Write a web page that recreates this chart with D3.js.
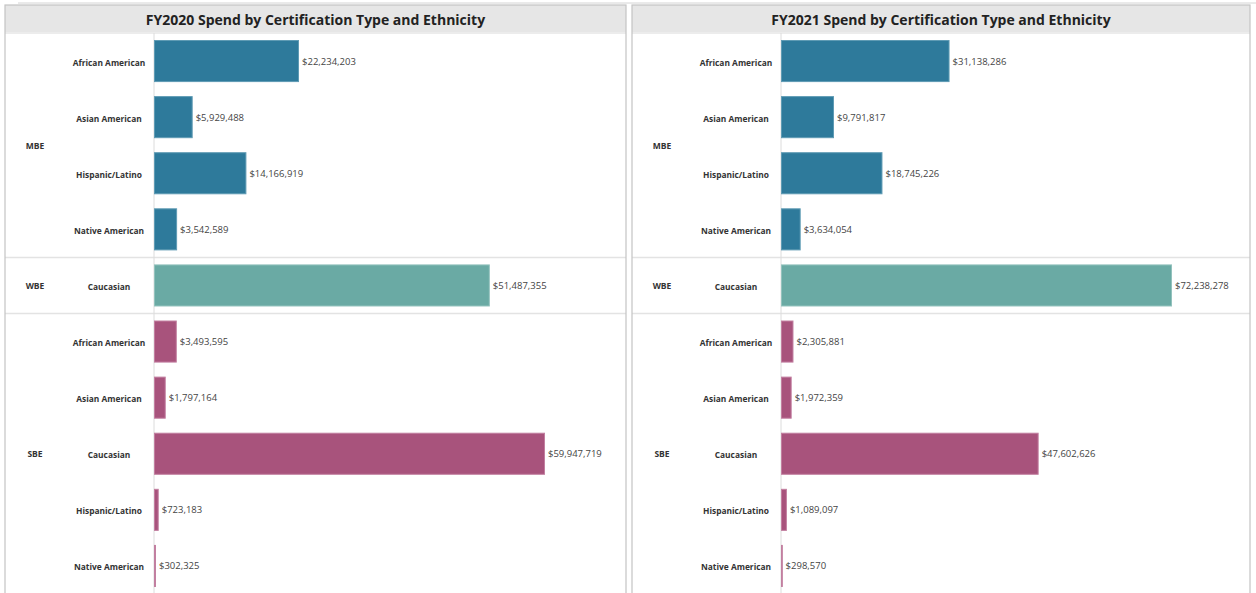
<!DOCTYPE html>
<html>
<head>
<meta charset="utf-8">
<script src="https://cdn.jsdelivr.net/npm/d3@7"></script>
<style>
  body { margin: 0; background: #fff; }
  svg { display: block; font-family: "Open Sans", "Noto Sans", sans-serif; }
</style>
</head>
<body>
<svg id="chart" width="1256" height="593"></svg>
<script>
// data
var certTypes = ['MBE', 'WBE', 'SBE'];
var rowCert = ['MBE', 'MBE', 'MBE', 'MBE', 'WBE', 'SBE', 'SBE', 'SBE', 'SBE', 'SBE'];
var rowEthnicity = ['African American', 'Asian American', 'Hispanic/Latino', 'Native American',
  'Caucasian',
  'African American', 'Asian American', 'Caucasian', 'Hispanic/Latino', 'Native American'];
var spend2020 = [22234203, 5929488, 14166919, 3542589, 51487355, 3493595, 1797164, 59947719, 723183, 302325];
var spend2021 = [31138286, 9791817, 18745226, 3634054, 72238278, 2305881, 1972359, 47602626, 1089097, 298570];
var panelTitles = ['FY2020 Spend by Certification Type and Ethnicity', 'FY2021 Spend by Certification Type and Ethnicity'];

var colors = { MBE: '#2e7a9b', WBE: '#6aaaa4', SBE: '#a8537c' };
var strokes = { MBE: '#5f9bb4', WBE: '#93c2bd', SBE: '#c27fa0' };

var svg = d3.select('#chart');
var fmt = d3.format('$,');

var panels = [
  { x0: 5, x1: 626, title: panelTitles[0], values: spend2020 },
  { x0: 632, x1: 1250, title: panelTitles[1], values: spend2021 }
];

var y = d3.scaleBand()
  .domain(d3.range(rowCert.length))
  .range([33, 594])
  .paddingInner(0.25)
  .paddingOuter(0.125);

// outer top rule
svg.append('line')
  .attr('x1', 18).attr('x2', 1256).attr('y1', 3).attr('y2', 3)
  .attr('stroke', '#d4d4d4');

panels.forEach(function(p) {
  var g = svg.append('g');
  var axisX = p.x0 + 149;
  var x = d3.scaleLinear().domain([0, d3.max(p.values)]).range([axisX, axisX + 391]);

  // header band
  g.append('rect')
    .attr('x', p.x0).attr('y', 5).attr('width', p.x1 - p.x0).attr('height', 27)
    .attr('fill', '#e6e6e6');
  g.append('line')
    .attr('x1', p.x0).attr('x2', p.x1).attr('y1', 33).attr('y2', 33)
    .attr('stroke', '#d9d9d9');
  g.append('text')
    .attr('x', (p.x0 + p.x1) / 2).attr('y', 19)
    .attr('text-anchor', 'middle').attr('dominant-baseline', 'central')
    .attr('font-size', 14).attr('font-weight', 700).attr('fill', '#222')
    .text(p.title);

  // group separators
  certTypes.slice(1).forEach(function(c) {
    var i = rowCert.indexOf(c);
    var yy = y(i) - y.step() * y.paddingInner() / 2;
    g.append('line')
      .attr('x1', p.x0).attr('x2', p.x1).attr('y1', yy).attr('y2', yy)
      .attr('stroke', '#e3e3e3').attr('stroke-width', 1.5);
  });

  // zero line
  g.append('line')
    .attr('x1', axisX).attr('x2', axisX).attr('y1', 33).attr('y2', 593)
    .attr('stroke', '#dcdcdc');

  // cert type labels
  certTypes.forEach(function(c) {
    var idx = d3.range(rowCert.length).filter(function(i) { return rowCert[i] === c; });
    var cy = (y(idx[0]) + y(idx[idx.length - 1]) + y.bandwidth()) / 2;
    g.append('text')
      .attr('x', p.x0 + 30).attr('y', cy)
      .attr('text-anchor', 'middle').attr('dominant-baseline', 'central')
      .attr('font-size', 8.5).attr('font-weight', 700).attr('fill', '#333')
      .text(c);
  });

  // ethnicity labels
  g.selectAll('.eth')
    .data(rowEthnicity)
    .enter()
    .append('text')
    .attr('x', p.x0 + 104)
    .attr('y', function(d, i) { return y(i) + y.bandwidth() / 2 + 1; })
    .attr('text-anchor', 'middle').attr('dominant-baseline', 'central')
    .attr('font-size', 8.4).attr('font-weight', 700).attr('fill', '#333')
    .text(function(d) { return d; });

  // bars
  g.selectAll('.bar')
    .data(p.values)
    .enter()
    .append('rect')
    .attr('x', axisX + 0.5)
    .attr('y', function(d, i) { return y(i) + 0.5; })
    .attr('width', function(d) { return Math.max(x(d) - axisX - 1, 0.8); })
    .attr('height', y.bandwidth() - 1)
    .attr('fill', function(d, i) { return colors[rowCert[i]]; })
    .attr('stroke', function(d, i) { return strokes[rowCert[i]]; })
    .attr('stroke-width', 1);

  // value labels
  g.selectAll('.val')
    .data(p.values)
    .enter()
    .append('text')
    .attr('x', function(d) { return x(d) + 3; })
    .attr('y', function(d, i) { return y(i) + y.bandwidth() / 2; })
    .attr('dominant-baseline', 'central')
    .attr('font-size', 9.5).attr('fill', '#444')
    .text(function(d) { return fmt(d); });

  // panel border
  g.append('rect')
    .attr('x', p.x0).attr('y', 5).attr('width', p.x1 - p.x0).attr('height', 600)
    .attr('fill', 'none').attr('stroke', '#c4c4c4').attr('stroke-width', 1.2);
});
</script>
</body>
</html>
